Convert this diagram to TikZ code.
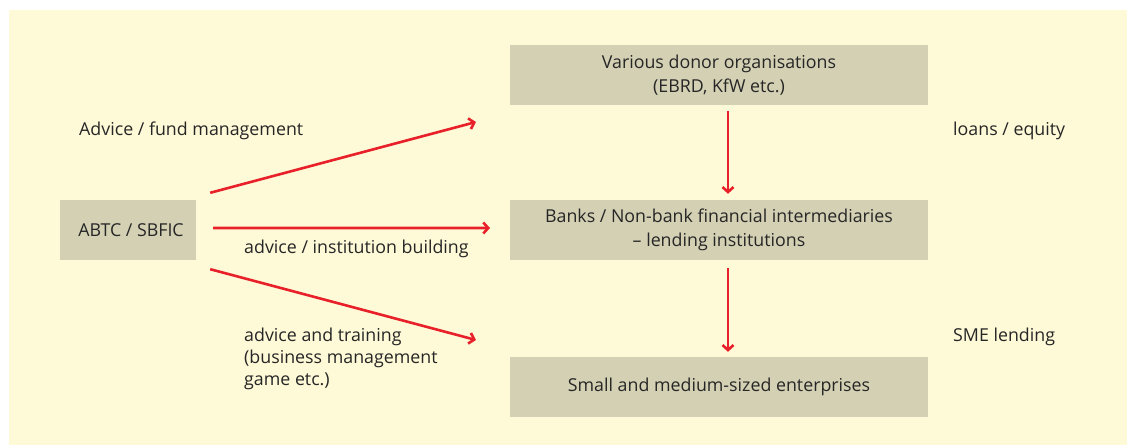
\documentclass[tikz,border=0pt]{standalone}
\usepackage{fontspec}
\setmainfont{Open Sans}
\usetikzlibrary{arrows.meta}
\definecolor{bgyel}{HTML}{FEF9D6}
\definecolor{boxgrey}{HTML}{D4D0B4}
\definecolor{arrred}{HTML}{E8202A}
\definecolor{txt}{HTML}{262626}
\tikzset{
  box/.style={fill=boxgrey, draw=none, minimum height=60bp, inner sep=0pt, align=center, text=txt, font=\fontsize{17.8bp}{24bp}\selectfont},
  lbl/.style={anchor=west, inner sep=0pt, align=left, text=txt, font=\fontsize{17.8bp}{22bp}\selectfont},
  arr/.style={draw=arrred, line width=2.6bp, -{Straight Barb[length=5bp,width=11bp,line width=2.6bp]}}
}
\begin{document}
\begin{tikzpicture}[x=1bp,y=-1bp]
\useasboundingbox (0,0) rectangle (1127,445);
\fill[bgyel] (9,10) rectangle (1127,445);
\node[box, minimum width=418bp] (donor) at (719,75) {Various donor organisations\\(EBRD, KfW etc.)};
\node[box, minimum width=418bp] (banks) at (719,230) {Banks / Non-bank financial intermediaries\\– lending institutions};
\node[box, minimum width=418bp] (sme) at (719,387) {Small and medium-sized enterprises};
\node[box, minimum width=136bp] (abtc) at (128,230) {\hspace*{6bp}ABTC / SBFIC};
\coordinate (t1) at (476,122);
\coordinate (t2) at (490,228);
\coordinate (t3) at (476,340);
\draw[arr] ([xshift=14bp,yshift=7bp]abtc.north east) -- (t1);
\draw[arr] ([xshift=17bp,yshift=2bp]abtc.east) -- (t2);
\draw[arr] ([xshift=14bp,yshift=-9bp]abtc.south east) -- (t3);
\draw[arr] ([xshift=9bp,yshift=-6bp]donor.south) -- ([xshift=9bp,yshift=6bp]banks.north);
\draw[arr] ([xshift=9bp,yshift=-8bp]banks.south) -- ([xshift=9bp,yshift=5bp]sme.north);
\node[lbl] (l1) at (79,131) {Advice / fund management};
\node[lbl] (l2) at (244,249) {advice / institution building};
\node[lbl] (l3) at (244,359) {advice and training\\(business management\\game etc.)};
\node[lbl] (l4) at (953,131) {loans / equity};
\node[lbl] (l5) at (953,337) {SME lending};
\end{tikzpicture}
\end{document}
